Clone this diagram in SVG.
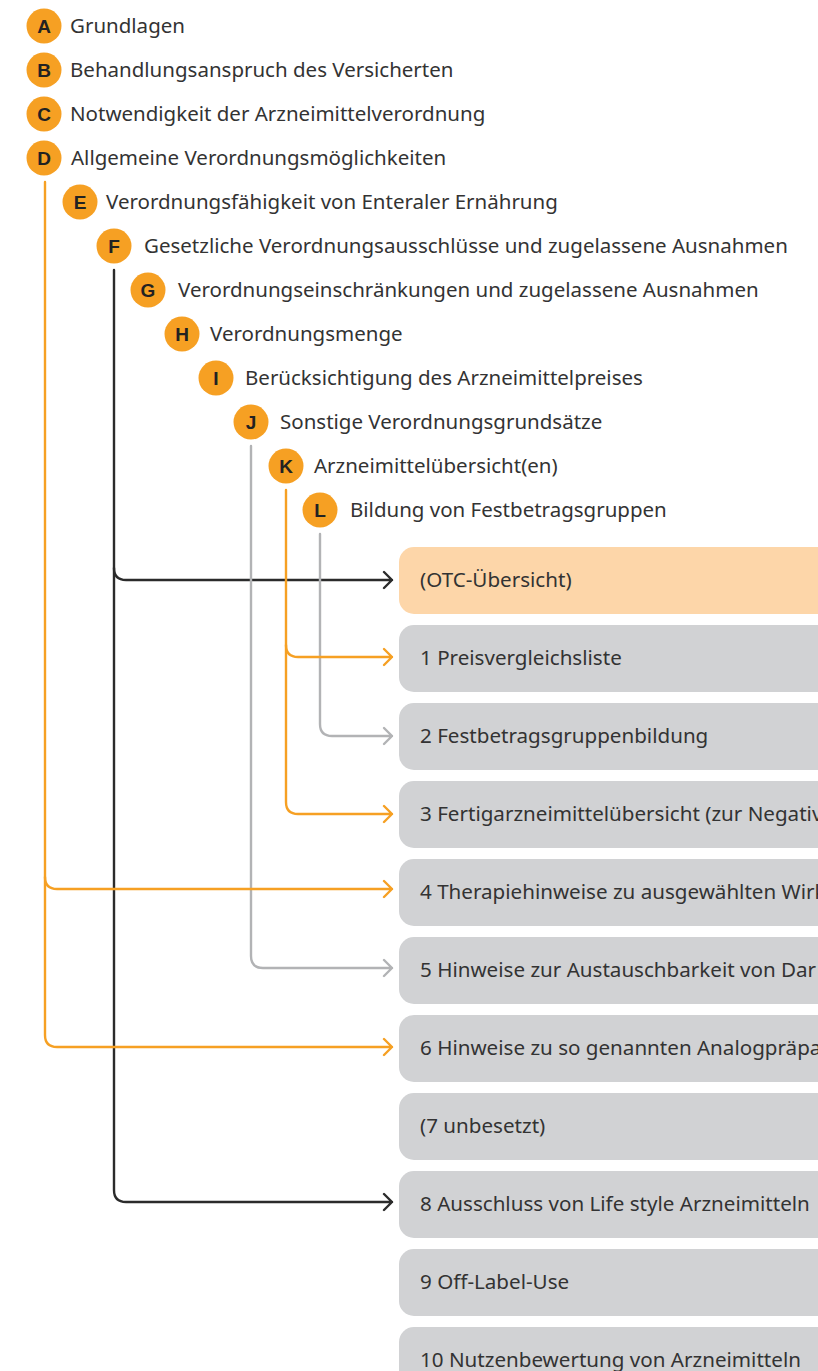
<svg xmlns="http://www.w3.org/2000/svg" width="818" height="1371" viewBox="0 0 818 1371">
<style>
.c{fill:#F6A023}
.cl{font-family:"Liberation Sans",Arial,sans-serif;font-weight:bold;font-size:19px;fill:#222;text-anchor:middle}
.t{font-family:"Noto Sans","Liberation Sans",sans-serif;font-size:20.5px;fill:#333}
.bt{font-family:"Noto Sans","Liberation Sans",sans-serif;font-size:20.6px;fill:#333}
.box{fill:#D1D2D4}
.otc{fill:#FDD6A9}
.ln{fill:none;stroke-width:2.4;stroke-linecap:round;stroke-linejoin:round}
.k{stroke:#2b2b2b}
.o{stroke:#F6A023}
.g{stroke:#B2B3B5}
</style>
<rect width="818" height="1371" fill="#fff"/>
<g id="connectors">
<path class="ln k" d="M114,270 V1190 Q114,1202 126,1202 H392 M384,1194 L392,1202 L384,1210"/>
<path class="ln k" d="M114,568 Q114,580 126,580 H392 M384,572 L392,580 L384,588"/>
<path class="ln g" d="M251,446 V956 Q251,968 263,968 H392 M384,960 L392,968 L384,976"/>
<path class="ln g" d="M320,534 V724 Q320,736 332,736 H392 M384,728 L392,736 L384,744"/>
<path class="ln o" d="M286,490 V802 Q286,814 298,814 H392 M384,806 L392,814 L384,822"/>
<path class="ln o" d="M286,645 Q286,657 298,657 H392 M384,649 L392,657 L384,665"/>
<path class="ln o" d="M45,182 V1035 Q45,1047 57,1047 H392 M384,1039 L392,1047 L384,1055"/>
<path class="ln o" d="M45,877 Q45,889 57,889 H392 M384,881 L392,889 L384,897"/>
</g>
<g id="A"><circle class="c" cx="44" cy="26" r="17.5"/><text class="cl" x="44" y="32.8">A</text><text class="t" x="70" y="33">Grundlagen</text></g>
<g id="B"><circle class="c" cx="44" cy="70" r="17.5"/><text class="cl" x="44" y="76.8">B</text><text class="t" x="70" y="77">Behandlungsanspruch des Versicherten</text></g>
<g id="C"><circle class="c" cx="44" cy="114" r="17.5"/><text class="cl" x="44" y="120.8">C</text><text class="t" x="70" y="121">Notwendigkeit der Arzneimittelverordnung</text></g>
<g id="D"><circle class="c" cx="44" cy="158" r="17.5"/><text class="cl" x="44" y="164.8">D</text><text class="t" x="71" y="165">Allgemeine Verordnungsmöglichkeiten</text></g>
<g id="E"><circle class="c" cx="80" cy="202" r="17.5"/><text class="cl" x="80" y="208.8">E</text><text class="t" x="106" y="209">Verordnungsfähigkeit von Enteraler Ernährung</text></g>
<g id="F"><circle class="c" cx="114" cy="246" r="17.5"/><text class="cl" x="114" y="252.8">F</text><text class="t" x="144" y="253">Gesetzliche Verordnungsausschlüsse und zugelassene Ausnahmen</text></g>
<g id="G"><circle class="c" cx="148" cy="290" r="17.5"/><text class="cl" x="148" y="296.8">G</text><text class="t" x="178" y="297">Verordnungseinschränkungen und zugelassene Ausnahmen</text></g>
<g id="H"><circle class="c" cx="182" cy="334" r="17.5"/><text class="cl" x="182" y="340.8">H</text><text class="t" x="210" y="341">Verordnungsmenge</text></g>
<g id="I"><circle class="c" cx="216" cy="378" r="17.5"/><text class="cl" x="216" y="384.8">I</text><text class="t" x="245" y="385">Berücksichtigung des Arzneimittelpreises</text></g>
<g id="J"><circle class="c" cx="251" cy="422" r="17.5"/><text class="cl" x="251" y="428.8">J</text><text class="t" x="280" y="429">Sonstige Verordnungsgrundsätze</text></g>
<g id="K"><circle class="c" cx="286" cy="466" r="17.5"/><text class="cl" x="286" y="472.8">K</text><text class="t" x="314" y="473">Arzneimittelübersicht(en)</text></g>
<g id="L"><circle class="c" cx="320" cy="510" r="17.5"/><text class="cl" x="320" y="516.8">L</text><text class="t" x="350" y="517">Bildung von Festbetragsgruppen</text></g>
<g id="box0"><rect class="otc" x="399" y="547" width="460" height="67" rx="15"/><text class="bt" x="420" y="587">(OTC-Übersicht)</text></g>
<g id="box1"><rect class="box" x="399" y="625" width="460" height="67" rx="15"/><text class="bt" x="420" y="665">1 Preisvergleichsliste</text></g>
<g id="box2"><rect class="box" x="399" y="703" width="460" height="67" rx="15"/><text class="bt" x="420" y="743">2 Festbetragsgruppenbildung</text></g>
<g id="box3"><rect class="box" x="399" y="781" width="460" height="67" rx="15"/><text class="bt" x="420" y="821">3 Fertigarzneimittelübersicht (zur Negativ</text></g>
<g id="box4"><rect class="box" x="399" y="859" width="460" height="67" rx="15"/><text class="bt" x="420" y="899">4 Therapiehinweise zu ausgewählten Wirk</text></g>
<g id="box5"><rect class="box" x="399" y="937" width="460" height="67" rx="15"/><text class="bt" x="420" y="977">5 Hinweise zur Austauschbarkeit von Dar</text></g>
<g id="box6"><rect class="box" x="399" y="1015" width="460" height="67" rx="15"/><text class="bt" x="420" y="1055">6 Hinweise zu so genannten Analogpräpa</text></g>
<g id="box7"><rect class="box" x="399" y="1093" width="460" height="67" rx="15"/><text class="bt" x="420" y="1133">(7 unbesetzt)</text></g>
<g id="box8"><rect class="box" x="399" y="1171" width="460" height="67" rx="15"/><text class="bt" x="420" y="1211">8 Ausschluss von Life style Arzneimitteln</text></g>
<g id="box9"><rect class="box" x="399" y="1249" width="460" height="67" rx="15"/><text class="bt" x="420" y="1289">9 Off-Label-Use</text></g>
<g id="box10"><rect class="box" x="399" y="1327" width="460" height="67" rx="15"/><text class="bt" x="420" y="1367">10 Nutzenbewertung von Arzneimitteln</text></g>
</svg>
